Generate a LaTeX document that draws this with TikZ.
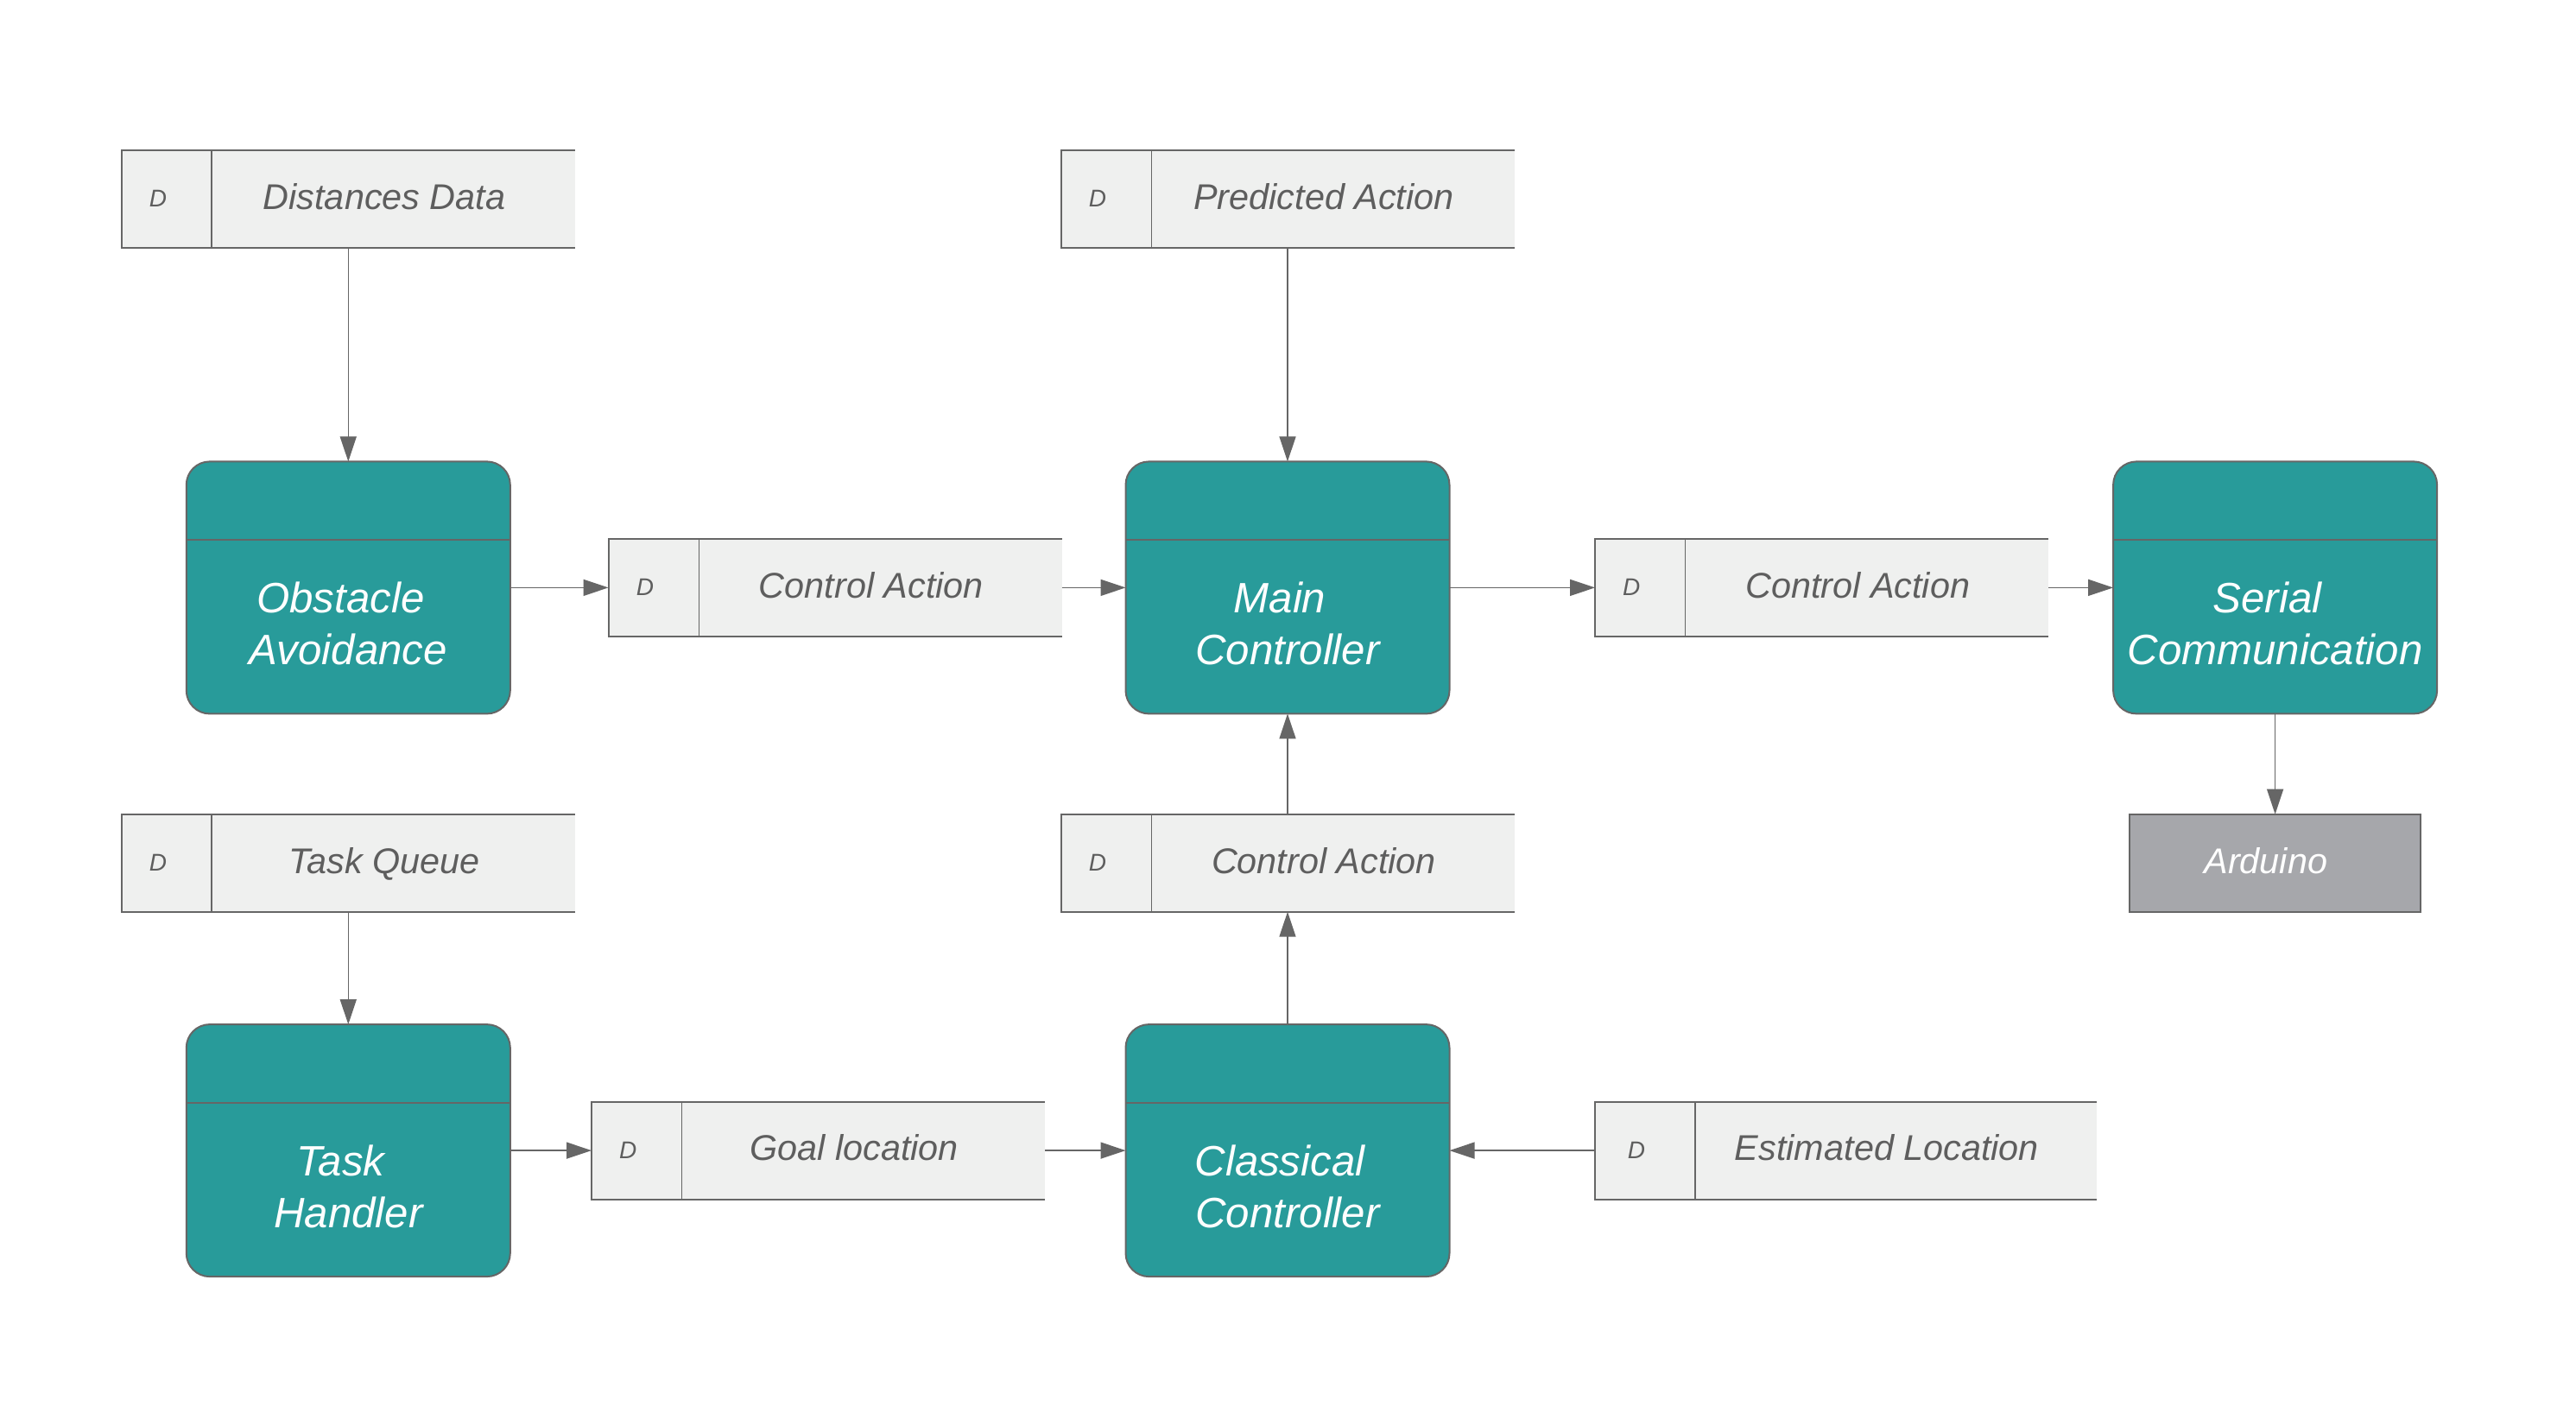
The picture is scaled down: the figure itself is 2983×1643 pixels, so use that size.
\documentclass[tikz,border=0pt]{standalone}
\usepackage{fontspec}
\setmainfont{Liberation Sans}
\usetikzlibrary{arrows.meta,calc}
\definecolor{tealfill}{HTML}{289B9A}
\definecolor{edgegray}{HTML}{666666}
\definecolor{storefill}{HTML}{EFF0EF}
\definecolor{txtgray}{HTML}{5E5E5E}
\definecolor{ardfill}{HTML}{A6A7AB}
\tikzset{
  proc/.style={rectangle, rounded corners=13.5pt, draw=edgegray, line width=1pt,
    fill=tealfill, minimum width=187.5pt, minimum height=146pt, inner sep=0pt, outer sep=0pt},
  store/.style={rectangle, fill=storefill, draw=none, minimum height=56.5pt,
    inner sep=0pt, outer sep=0pt},
  ardbox/.style={rectangle, fill=ardfill, draw=edgegray, line width=1pt,
    minimum width=168.6pt, minimum height=56.5pt, inner sep=0pt, outer sep=0pt},
  outline/.style={draw=edgegray, line width=1pt},
  divline/.style={draw=edgegray, line width=0.85pt},
  ptxt/.style={anchor=base, inner sep=0pt, text=white,
    font=\fontsize{24.6pt}{29pt}\selectfont\itshape},
  stxt/.style={anchor=base, inner sep=0pt, text=txtgray,
    font=\fontsize{20.7pt}{25pt}\selectfont\itshape},
  dtxt/.style={anchor=base, inner sep=0pt, text=txtgray,
    font=\fontsize{14pt}{17pt}\selectfont\itshape},
  flow/.style={draw=edgegray, line width=0.8pt, -{Triangle[length=14.5pt,width=9.5pt]}}
}
% data store: name, cx, cy, width, divider offset, label (all in reference pixels)
\newcommand\dstore[6]{%
  \node[store, minimum width=#4*0.5pt] (#1) at (#2,#3) {};
  \draw[outline] (#1.north east) -- (#1.north west) -- (#1.south west) -- (#1.south east);
  \draw[divline] ($(#1.north west)+(#5,0)$) -- ($(#1.south west)+(#5,0)$);
  \node[dtxt] (#1-d) at ($(#1.west)+({#5/2-10},9.3)$) {D};
  \node[stxt] (#1-t) at ($(#1.west)+({#5+(#4-#5)/2-10.5},11.8)$) {#6};
}
% process box: name, cx, cy, first line, second line
\newcommand\procbox[5]{%
  \node[proc] (#1) at (#2,#3) {};
  \draw[outline] ($(#1.north west)+(0,90.6)$) -- ($(#1.north east)+(0,90.6)$);
  \node[ptxt] (#1-a) at ($(#1.north)+(-9,175)$) {#4};
  \node[ptxt] (#1-b) at ($(#1.north)+(0,235.4)$) {#5};
}
\begin{document}
\begin{tikzpicture}[x=0.5pt,y=-0.5pt]
\useasboundingbox (0,0) rectangle (2983,1643);

% data stores
\dstore{dd}{403.3}{230.5}{525}{104.5}{Distances Data}
\dstore{pa}{1491}{230.5}{525}{105}{Predicted Action}
\dstore{caa}{967}{680.4}{525}{105}{Control Action}
\dstore{cab}{2109.5}{680.4}{525}{104.5}{Control Action}
\dstore{tq}{403.3}{999.2}{525}{104.5}{Task Queue}
\dstore{cac}{1491}{999.2}{525}{105}{Control Action}
\dstore{gl}{947.5}{1332.1}{525}{104.5}{Goal location}
\dstore{el}{2137.5}{1332.1}{581}{116}{Estimated Location}

% processes
\procbox{oa}{403.3}{680.4}{Obstacle}{Avoidance}
\procbox{mc}{1491}{680.4}{Main}{Controller}
\procbox{sc}{2634.6}{680.4}{Serial}{Communication}
\procbox{th}{403.3}{1332.1}{Task}{Handler}
\procbox{cc}{1491}{1332.1}{Classical}{Controller}

% external entity
\node[ardbox] (ard) at (2634.6,999.2) {};
\node[stxt, text=white] (ard-t) at ($(ard.center)+(-10.8,12.6)$) {Arduino};

% connectors
\draw[flow] (dd) -- (oa);
\draw[flow] (pa) -- (mc);
\draw[flow] (oa) -- (caa);
\draw[flow] (caa) -- (mc);
\draw[flow] (mc) -- (cab);
\draw[flow] (cab) -- (sc);
\draw[flow] (sc) -- (ard);
\draw[flow] (cac) -- (mc);
\draw[flow] (cc) -- (cac);
\draw[flow] (tq) -- (th);
\draw[flow] (th) -- (gl);
\draw[flow] (gl) -- (cc);
\draw[flow] (el) -- (cc);
\end{tikzpicture}
\end{document}
